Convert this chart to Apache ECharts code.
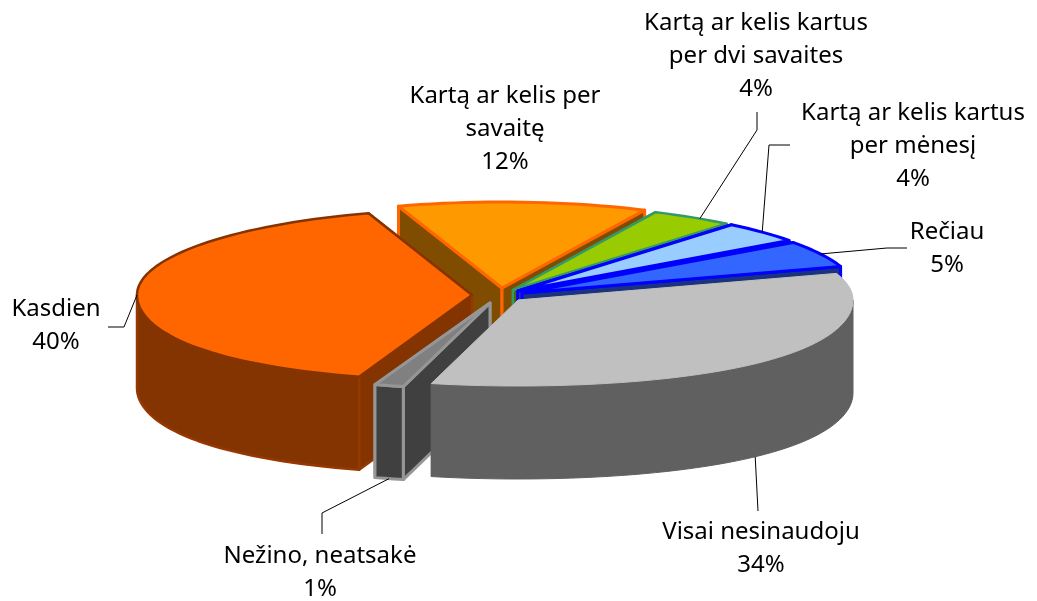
<!DOCTYPE html>
<html>
<head>
<meta charset="utf-8">
<script src="https://cdn.jsdelivr.net/npm/echarts@6/dist/echarts.min.js"></script>
<style>
html,body{margin:0;padding:0;background:#fff}
#chart{width:1037px;height:601px}
</style>
</head>
<body>
<div id="chart"></div>
<script>
var categories = ['Kasdien', 'Kartą ar kelis per\nsavaitę', 'Kartą ar kelis kartus\nper dvi savaites', 'Kartą ar kelis kartus\nper mėnesį', 'Rečiau', 'Visai nesinaudoju', 'Nežino, neatsakė'];
// the labels show these rounded
var shares = [40, 12, 4, 4, 5, 33.8, 1.3];

var topColors = ['#FF6600', '#FF9900', '#99CC00', '#99CCFF', '#3366FF', '#C0C0C0', '#808080'];
var sideColors = ['#843400', '#804D00', '#4D6600', '#4D6680', '#1A3380', '#606060', '#404040'];
var edgeColors = ['#843400', '#FF6600', '#339966', '#0000FF', '#0000FF', '#C0C0C0', '#969696'];
var wallEdges = ['#963800', '#FF6600', '#339966', '#0000FF', '#0000FF', '#606060', '#969696'];
var edgeWidths = [2.5, 3, 2.5, 3, 3, 1, 3];

// layout of the 3d pie
var centerX = 510, centerY = 294, radiusX = 335, radiusY = 86, depth = 93, frontGrow = 0.1;
var startAngle = 198;
var offsets = [[-38, 1], [-8, -6], [3, -4], [8, -3], [12, -1], [8, 6], [-20, 9]];
var paintRank = [4, 0, 1, 2, 3, 6, 5];
var labelPos = [[56, 326], [505, 129], [756, 56], [913, 146], [947, 249], [761, 549], [320, 573]];
var leaderBends = [[[124, 327], [108, 327]], [], [[757, 130], [757, 112]], [[769, 145], [790, 145]], [[887, 248], [907, 248]], [[758, 511]], [[322, 513], [322, 534]]];
var leaderTurn = [0, 0, 1.5, 0, 0, 5, 0];

function rimPoint(i, deg, drop) {
  var a = deg * Math.PI / 180;
  var c = Math.cos(a);
  var grow = c < 0 ? 1 + frontGrow * c * c : 1;
  return [
    centerX + offsets[i][0] + radiusX * grow * Math.sin(a),
    centerY + offsets[i][1] - radiusY * c + drop
  ];
}

function arcPoints(i, from, to, drop) {
  var pts = [];
  var n = Math.max(2, Math.ceil(Math.abs(to - from) / 2));
  for (var k = 0; k <= n; k++) {
    pts.push(rimPoint(i, from + (to - from) * k / n, drop));
  }
  return pts;
}

function renderSlice(params, api) {
  var i = params.dataIndex;
  var before = 0;
  for (var k = 0; k < i; k++) before += shares[k];
  var from = startAngle + before * 3.6;
  var to = from + api.value(0) * 3.6;
  var mid = (from + to) / 2;
  var apex = [centerX + offsets[i][0], centerY + offsets[i][1]];
  var apexLow = [apex[0], apex[1] + depth];
  var z = paintRank[i] * 10;
  var children = [];

  function poly(points, fill, edge, width, z2) {
    children.push({
      type: 'polygon',
      z2: z2,
      shape: { points: points },
      style: { fill: fill, stroke: edge, lineWidth: width, lineJoin: 'round' }
    });
  }

  // cut walls, the one facing the viewer goes last
  var walls = Math.cos(mid * Math.PI / 180) > 0 ? [from, to] : [to, from];
  walls.forEach(function (deg) {
    poly([apex, rimPoint(i, deg, 0), rimPoint(i, deg, depth), apexLow], sideColors[i], wallEdges[i], edgeWidths[i], z);
  });

  // outer wall, only the part facing the viewer
  var turn = Math.ceil((from - 270) / 360);
  var wallFrom = Math.max(from, 90 + turn * 360);
  var wallTo = Math.min(to, 270 + turn * 360);
  if (wallTo > wallFrom) {
    poly(arcPoints(i, wallFrom, wallTo, 0).concat(arcPoints(i, wallTo, wallFrom, depth)), sideColors[i], wallEdges[i], edgeWidths[i], z + 1);
  }

  // top face
  poly([apex].concat(arcPoints(i, from, to, 0)), topColors[i], edgeColors[i], edgeWidths[i], z + 2);

  // leader line and label
  var bends = leaderBends[i];
  if (bends.length) {
    var leaderAt = mid + leaderTurn[i];
    var front = Math.cos(leaderAt * Math.PI / 180) < -0.3;
    children.push({
      type: 'polyline',
      z2: 200,
      shape: { points: [rimPoint(i, leaderAt, front ? depth : 0)].concat(bends) },
      style: { fill: null, stroke: '#000', lineWidth: 1 }
    });
  }
  children.push({
    type: 'text',
    z2: 201,
    x: labelPos[i][0],
    y: labelPos[i][1],
    style: {
      text: categories[i] + '\n' + Math.round(api.value(0)) + '%',
      fill: '#000',
      font: '24px "Noto Sans"',
      lineHeight: 33,
      align: 'center',
      verticalAlign: 'middle'
    }
  });
  return { type: 'group', children: children };
}

var chart = echarts.init(document.getElementById('chart'), null, { renderer: 'canvas' });
chart.setOption({
  animation: false,
  backgroundColor: '#fff',
  series: [{
    type: 'custom',
    coordinateSystem: 'none',
    renderItem: renderSlice,
    data: shares.map(function (v) { return [v]; })
  }]
});
</script>
</body>
</html>
